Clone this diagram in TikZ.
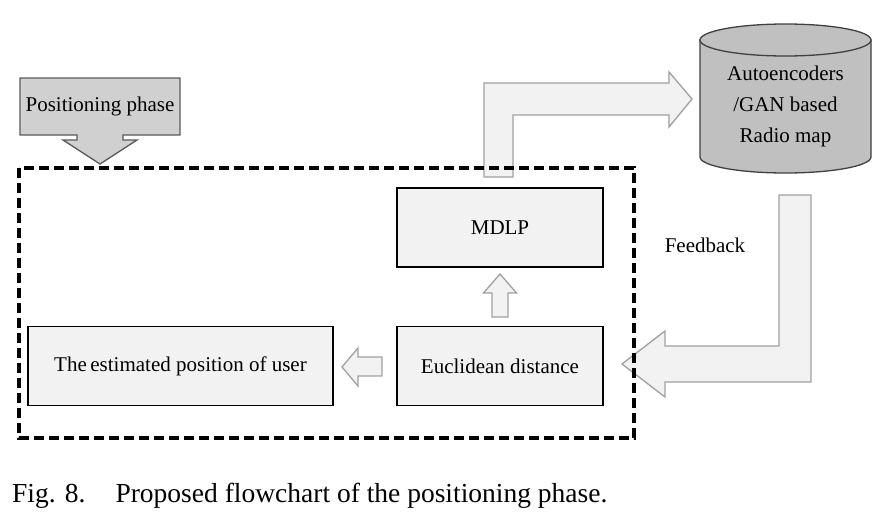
\documentclass[tikz,border=0pt]{standalone}
\usepackage{fontspec}
\setmainfont{Liberation Serif}
\definecolor{boxfill}{HTML}{F2F2F2}
\definecolor{arrowline}{HTML}{A0A0A0}
\definecolor{phasefill}{HTML}{D0D0D0}
\definecolor{dbfill}{HTML}{C0C0C0}
\begin{document}
\begin{tikzpicture}[x=1pt,y=-1pt,
  box/.style={draw=black, line width=1.3pt, fill=boxfill, minimum width=206, minimum height=79, inner sep=0pt, font=\fontsize{21}{25}\selectfont},
  blockarrow/.style={draw=arrowline, line width=1.3pt, fill=boxfill, line join=miter},
  label/.style={font=\fontsize{21}{25}\selectfont, inner sep=0pt},
  frame/.style={draw=black, line width=3.2pt, dash pattern=on 10pt off 5pt}]
\useasboundingbox (0,0) rectangle (887,517);
% positioning phase
\draw[draw=black!65, line width=1.3pt, fill=phasefill]
  (20,78) -- (180,78) -- (180,135) -- (123,135) -- (123,140) -- (137,140) -- (100,164)
  -- (63,140) -- (77,140) -- (77,135) -- (20,135) -- cycle;
\node[label] (phase) at (100,106) {Positioning phase};
% boxes
\node[box] (mdlp) at (500,227.5) {MDLP};
\node[box] (eucl) at (500,366) {Euclidean distance};
\node[box, minimum width=305] (est) at (180.5,366) {The\,estimated position of user};
% block arrows
\draw[blockarrow] (492,317) -- (492,293) -- (483.5,293) -- (500,274) -- (516.5,293) -- (508,293) -- (508,317) -- cycle;
\draw[blockarrow] (382,357) -- (358,357) -- (358,348) -- (342,367) -- (358,386) -- (358,376) -- (382,376) -- cycle;
\draw[blockarrow] (484,177) -- (484,83) -- (669,83) -- (669,72) -- (692,99) -- (669,127) -- (669,115) -- (513,115) -- (513,177) -- cycle;
\draw[blockarrow] (779,195) -- (811,195) -- (811,382) -- (665,382) -- (665,397) -- (622,364) -- (665,331) -- (665,346) -- (779,346) -- cycle;
% database cylinder
\draw[draw=black!75, line width=1.3pt, fill=dbfill]
  (700,40) -- (700,157) arc[start angle=180, end angle=0, x radius=85.5, y radius=16] -- (871,40) -- cycle;
\draw[draw=black!75, line width=1.3pt, fill=dbfill] (785.5,40) ellipse [x radius=85.5, y radius=16];
\node[label, align=center, font=\fontsize{21}{31}\selectfont] (db) at (785.5,106) {Autoencoders\\/GAN based\\Radio map};
\node[label, anchor=base] (fb) at (705,252) {Feedback};
% dashed frame
\draw[frame] (19,168) rectangle (634,438);
% caption
\node[anchor=base west, inner sep=0pt, font=\fontsize{27.5}{32}\selectfont] (cap) at (12,502) {Fig. 8.\hspace{30pt}Proposed flowchart of the positioning phase.};
\end{tikzpicture}
\end{document}
